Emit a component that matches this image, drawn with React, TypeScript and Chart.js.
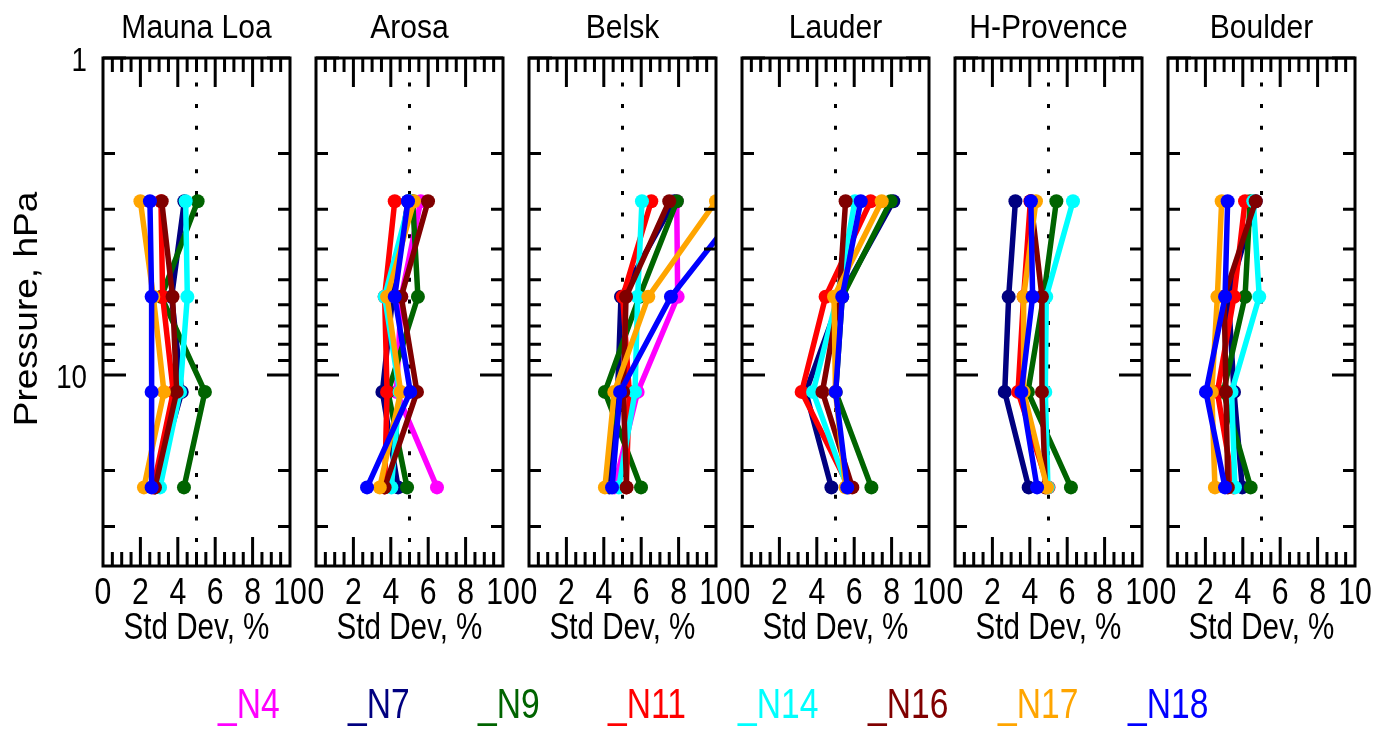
import React, { useEffect, useRef } from 'react';
import { Chart, registerables } from 'chart.js';

Chart.register(...registerables);

// satellites and their colours (legend order)
const satellites = ['_N4', '_N7', '_N9', '_N11', '_N14', '_N16', '_N17', '_N18'];
const satColors = ['#ff00ff', '#000080', '#006400', '#ff0000', '#00ffff', '#800000', '#ffa500', '#0000ff'];

const stations = ['Mauna Loa', 'Arosa', 'Belsk', 'Lauder', 'H-Provence', 'Boulder'];

// pressure levels, hPa (top to bottom)
const pressureLevels = [2.83, 5.66, 11.3, 22.6];

// std dev, % per satellite (rows N4..N18), one value per pressure level
const maunaLoa = [
    null,
    [4.35, 3.67, 4.21, 2.78],
    [5.06, 3.12, 5.45, 4.33],
    [3.1, 3.19, 3.76, 2.69],
    [4.42, 4.51, 4.12, 3.05],
    [3.14, 3.72, 3.94, 2.78],
    [2.0, 2.69, 3.26, 2.19],
    [2.51, 2.6, 2.6, 2.6],
];
const arosa = [
    [5.6, 4.56, 4.3, 6.47],
    [4.92, 4.1, 3.55, 4.39],
    [5.17, 5.45, 3.85, 4.87],
    [4.21, 3.67, 3.8, 3.67],
    [5.0, 3.67, 4.47, 4.03],
    [5.99, 4.56, 5.4, 3.67],
    [5.24, 3.8, 4.53, 3.41],
    [4.92, 4.21, 5.04, 2.73],
];
const belsk = [
    [7.9, 7.95, 5.81, 4.56],
    [7.77, 4.92, 4.74, 4.3],
    [7.91, 5.9, 4.06, 5.99],
    [6.54, 5.01, 5.36, 5.2],
    [6.04, 5.81, 5.67, 4.8],
    [7.5, 5.19, 5.04, 5.22],
    [10.0, 6.38, 4.56, 4.06],
    [11.6, 7.59, 4.87, 4.44],
];
const lauder = [
    null,
    [8.09, 5.27, 3.41, 4.78],
    [7.95, 5.36, 5.01, 6.92],
    [6.88, 4.47, 3.19, 5.72],
    [6.04, 5.1, 3.8, 5.63],
    [5.54, 5.2, 4.3, 5.9],
    [7.47, 4.92, 5.0, 5.54],
    [6.35, 5.36, 5.01, 5.63],
];
const hProvence = [
    null,
    [3.23, 2.87, 2.66, 3.94],
    [5.42, 4.74, 3.9, 6.2],
    [4.03, 3.67, 3.37, 5.0],
    [6.31, 4.88, 4.83, 4.97],
    [4.06, 4.65, 4.65, 4.83],
    [4.33, 3.67, 3.67, 4.92],
    [4.06, 4.15, 3.55, 4.39],
];
const boulder = [
    null,
    [4.69, 3.23, 3.53, 3.97],
    [4.39, 4.12, 2.96, 4.42],
    [4.12, 3.53, 2.64, 3.5],
    [4.56, 4.88, 3.4, 3.58],
    [4.69, 3.0, 3.1, 3.2],
    [2.87, 2.64, 2.34, 2.51],
    [3.19, 3.05, 2.03, 3.05],
];
const stationData = [maunaLoa, arosa, belsk, lauder, hProvence, boulder];

// axis ticks
const xTickLabels = [0, 2, 4, 6, 8, 10];
const xTickMarks = [0.5, 1, 1.5, 2, 2.5, 3, 3.5, 4, 4.5, 5, 5.5, 6, 6.5, 7, 7.5, 8, 8.5, 9, 9.5];
const pressureTickLabels = [1, 10];
const pressureMinorTicks = [2, 3, 4, 5, 6, 7, 8, 9, 20, 30];

// dotted reference line
const refStdDev = [5, 5];
const refPressure = [1, 40];

const FONT = "'Liberation Sans', Arial, sans-serif";

// the reference text is set in a condensed sans, so squeeze it horizontally
function drawText(ctx: CanvasRenderingContext2D, text: string, x: number, y: number,
    size: number, sx: number, align: CanvasTextAlign, color = '#000') {
    ctx.save();
    ctx.translate(x, y);
    ctx.scale(sx, 1);
    ctx.font = `${size}px ${FONT}`;
    ctx.textAlign = align;
    ctx.textBaseline = 'alphabetic';
    ctx.fillStyle = color;
    ctx.fillText(text, 0, 0);
    ctx.restore();
}

const framePlugin = {
    id: 'panelFrame',
    afterDraw(chart: any) {
        const { ctx, chartArea: a } = chart;
        const xs = chart.scales.x;
        const ys = chart.scales.y;
        ctx.save();
        ctx.strokeStyle = '#000';
        ctx.lineWidth = 3;
        ctx.beginPath();
        xTickMarks.forEach(v => {
            const px = xs.getPixelForValue(v);
            const len = xTickLabels.includes(v) ? 29 : 14;
            ctx.moveTo(px, a.top);
            ctx.lineTo(px, a.top + len);
            ctx.moveTo(px, a.bottom);
            ctx.lineTo(px, a.bottom - len);
        });
        [...pressureMinorTicks, ...pressureTickLabels].forEach(v => {
            const py = ys.getPixelForValue(v);
            const len = pressureTickLabels.includes(v) ? 23 : 12;
            ctx.moveTo(a.left, py);
            ctx.lineTo(a.left + len, py);
            ctx.moveTo(a.right, py);
            ctx.lineTo(a.right - len, py);
        });
        ctx.stroke();
        ctx.strokeRect(a.left, a.top, a.right - a.left, a.bottom - a.top);
        ctx.restore();

        const cx = (a.left + a.right) / 2;
        drawText(ctx, chart.options.plugins.panelFrame.title, cx, 37.5, 33, 0.91, 'center');
        xTickLabels.forEach(v => {
            drawText(ctx, String(v), xs.getPixelForValue(v), 604, 36, 0.84, 'center');
        });
        drawText(ctx, 'Std Dev, %', cx, 639, 37, 0.8, 'center');
    }
};

const pressureAxisPlugin = {
    id: 'pressureAxis',
    afterDraw(chart: any) {
        const { ctx, chartArea: a } = chart;
        const ys = chart.scales.y;
        pressureTickLabels.forEach(v => {
            drawText(ctx, String(v), a.left - 16, ys.getPixelForValue(v) + 12.5, 33, 0.84, 'right');
        });
        ctx.save();
        ctx.translate(37, (a.top + a.bottom) / 2 - 3);
        ctx.rotate(-Math.PI / 2);
        ctx.scale(1, 0.88);
        ctx.font = `37px ${FONT}`;
        ctx.textAlign = 'center';
        ctx.textBaseline = 'alphabetic';
        ctx.fillStyle = '#000';
        ctx.fillText('Pressure, hPa', 0, 0);
        ctx.restore();
    }
};

const legendPlugin = {
    id: 'satLegend',
    afterDraw(chart: any) {
        satellites.forEach((s, k) => {
            drawText(chart.ctx, s, 218 + 130 * k, 718, 42, 0.8, 'left', satColors[k]);
        });
    }
};

function Panel({ index }: { index: number }) {
    const canvasRef = useRef<HTMLCanvasElement>(null);
    const first = index === 0;
    const frameLeft = 103 + 213 * index;
    const canvasLeft = first ? 0 : frameLeft - 20;
    const canvasWidth = first ? 1389 : 227;

    useEffect(() => {
        if (!canvasRef.current) return;
        const rows = stationData[index];

        const datasets: any[] = [
            {
                label: 'ref',
                data: refStdDev.map((v, j) => ({ x: v, y: refPressure[j] })),
                borderColor: '#000',
                borderWidth: 3,
                borderDash: [4, 17.7],
                borderDashOffset: 19,
                pointRadius: 0,
                order: 100,
                clip: 0
            },
            ...rows.map((vals, k) => ({
                label: satellites[k],
                data: vals ? vals.map((v, j) => ({ x: v, y: pressureLevels[j] })) : [],
                borderColor: satColors[k],
                backgroundColor: satColors[k],
                pointBackgroundColor: satColors[k],
                borderWidth: 5.5,
                pointRadius: 7,
                pointBorderWidth: 0,
                order: satellites.length - 1 - k,
                clip: 0
            }))
        ];

        const chart = new Chart(canvasRef.current, {
            type: 'line',
            data: { datasets },
            options: {
                responsive: false,
                animation: false,
                events: [],
                layout: {
                    padding: {
                        left: first ? 103 : 20,
                        right: first ? 1389 - 290 : 20,
                        top: 58,
                        bottom: 732 - 566
                    }
                },
                plugins: {
                    legend: { display: false },
                    tooltip: { enabled: false },
                    title: { display: false },
                    panelFrame: { title: stations[index] }
                },
                scales: {
                    x: { type: 'linear', display: false, min: 0, max: 10 },
                    y: { type: 'logarithmic', display: false, min: 1, max: 40, reverse: true }
                }
            },
            plugins: first ? [framePlugin, pressureAxisPlugin, legendPlugin] : [framePlugin]
        } as any);

        return () => chart.destroy();
    }, [index]);

    return (
        <canvas
            ref={canvasRef}
            width={canvasWidth}
            height={732}
            style={{ position: 'absolute', left: canvasLeft, top: 0, width: canvasWidth, height: 732 }}
        />
    );
}

export default function App() {
    return (
        <div style={{ position: 'absolute', left: 0, top: 0, width: 1389, height: 732, background: '#fff' }}>
            {stations.map((s, i) => (
                <Panel key={s} index={i} />
            ))}
        </div>
    );
}
